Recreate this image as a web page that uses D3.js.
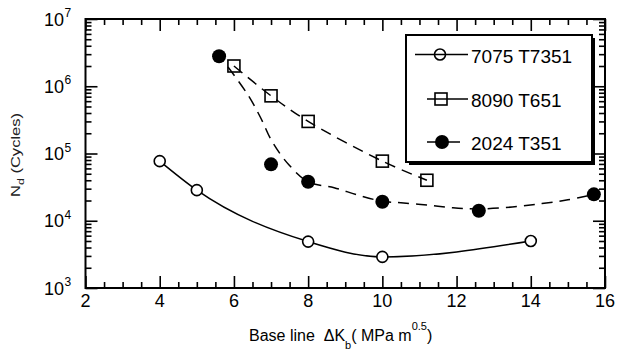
<!DOCTYPE html>
<html><head><meta charset="utf-8">
<script src="https://cdn.jsdelivr.net/npm/d3@7"></script>
<style>
html,body{margin:0;padding:0;background:#fff;}
svg{display:block;font-family:"Liberation Sans",Arial,Helvetica,sans-serif;}
</style></head>
<body>
<script>
// ---- data ----
const x7075 = [4, 5, 8, 10, 14];
const y7075 = [7.7e4, 2.85e4, 4.9e3, 2.9e3, 5.0e3];

const x8090 = [6, 7, 8, 10, 11.2];
const y8090 = [2.0e6, 7.2e5, 3.0e5, 7.7e4, 4.0e4];

const x2024 = [5.6, 7, 8, 10, 12.6, 15.7];
const y2024 = [2.8e6, 6.9e4, 3.8e4, 1.92e4, 1.41e4, 2.47e4];

// dashed fit curve drawn for 2024 T351
const fit2024X = [5.84, 6.38, 6.72, 7.03, 7.48, 8.0, 8.7, 9.35, 10.0, 10.5, 11.2, 11.9, 12.6, 13.5, 14.3, 15.0, 15.7];
const fit2024Y = [1.93e6, 7.4e5, 3.4e5, 1.5e5, 6.8e4, 3.8e4, 3.1e4, 2.4e4, 1.95e4, 1.85e4, 1.72e4, 1.56e4, 1.5e4, 1.6e4, 1.8e4, 2.05e4, 2.45e4];

const legendLabels = ["7075 T7351", "8090 T651", "2024 T351"];
const xTicks = [2, 4, 6, 8, 10, 12, 14, 16];
const xMinor = [2.5,3,3.5,4.5,5,5.5,6.5,7,7.5,8.5,9,9.5,10.5,11,11.5,12.5,13,13.5,14.5,15,15.5];
const yExps = [3, 4, 5, 6, 7];

// ---- layout ----
const W = 617, H = 351;
const L = 85.5, R = 605, T = 19, B = 288;

const svg = d3.select("body").append("svg").attr("width", W).attr("height", H);
const x = d3.scaleLinear().domain([2, 16]).range([L, R]);
const y = d3.scaleLog().domain([1e3, 1e7]).range([B, T]);

const yMajor = yExps.map(e => Math.pow(10, e));
const yMinor = [];
for (let e = 3; e < 7; e++) for (let m = 2; m <= 9; m++) yMinor.push(m * Math.pow(10, e));

function tickAxis(axisFn, scale, vals, size, tr) {
  const g = svg.append("g").attr("transform", tr)
    .call(axisFn(scale).tickValues(vals).tickSize(size).tickFormat(""));
  g.select(".domain").remove();
  g.selectAll(".tick line").attr("stroke", "#000").attr("stroke-width", 1.6);
}
tickAxis(d3.axisBottom, x, xTicks, -12, `translate(0,${B})`);
tickAxis(d3.axisBottom, x, xMinor, -6, `translate(0,${B})`);
tickAxis(d3.axisTop, x, xTicks, -12, `translate(0,${T})`);
tickAxis(d3.axisTop, x, xMinor, -6, `translate(0,${T})`);
tickAxis(d3.axisLeft, y, yMajor, -12, `translate(${L},0)`);
tickAxis(d3.axisLeft, y, yMinor, -6, `translate(${L},0)`);
tickAxis(d3.axisRight, y, yMajor, -12, `translate(${R},0)`);
tickAxis(d3.axisRight, y, yMinor, -6, `translate(${R},0)`);

svg.append("rect").attr("x", L).attr("y", T).attr("width", R - L).attr("height", B - T)
  .attr("fill", "none").attr("stroke", "#000").attr("stroke-width", 2);

// x tick labels
svg.append("g").selectAll("text").data(xTicks).join("text")
  .attr("x", d => x(d)).attr("y", B + 18.5).attr("text-anchor", "middle")
  .attr("font-size", 18).text(d => d);

// y tick labels 10^n
const yl = svg.append("g").selectAll("g").data(yExps).join("g");
yl.append("text").attr("x", 64).attr("y", d => y(Math.pow(10, d)) + 6.5)
  .attr("text-anchor", "end").attr("font-size", 18).text("10");
yl.append("text").attr("x", 64.5).attr("y", d => y(Math.pow(10, d)) - 2)
  .attr("font-size", 12).text(d => d);

// axis titles
const xt = svg.append("text").attr("x", 249).attr("y", 341).attr("font-size", 16)
  .style("white-space", "pre");
xt.append("tspan").text("Base line  ΔK");
xt.append("tspan").attr("font-size", 11).attr("dy", 8).text("b");
xt.append("tspan").attr("dy", -8).text("( MPa m");
xt.append("tspan").attr("font-size", 11).attr("dy", -11).text("0.5");
xt.append("tspan").attr("dy", 11).text(")");

const yt = svg.append("text").attr("font-size", 12).attr("fill", "#222")
  .attr("transform", "translate(20,155) rotate(-90) scale(1.38,1)")
  .attr("text-anchor", "middle").style("white-space", "pre");
yt.append("tspan").text("N");
yt.append("tspan").attr("font-size", 9).attr("dy", 4).text("d");
yt.append("tspan").attr("dy", -4).text(" (Cycles)");

// ---- curves ----
const zip = (a, b) => a.map((v, i) => [v, b[i]]);
const lineMono = d3.line().x(d => x(d[0])).y(d => y(d[1])).curve(d3.curveMonotoneX);
const lineCR = d3.line().x(d => x(d[0])).y(d => y(d[1])).curve(d3.curveCatmullRom.alpha(0.5));

svg.append("path").attr("d", lineMono(zip(x7075, y7075)))
  .attr("fill", "none").attr("stroke", "#000").attr("stroke-width", 1.5);
svg.append("path").attr("d", lineCR(zip(x8090, y8090)))
  .attr("fill", "none").attr("stroke", "#000").attr("stroke-width", 1.5).attr("stroke-dasharray", "11,7");
svg.append("path").attr("d", lineCR(zip(fit2024X, fit2024Y)))
  .attr("fill", "none").attr("stroke", "#000").attr("stroke-width", 1.5).attr("stroke-dasharray", "11,7");

// ---- markers ----
svg.append("g").selectAll("rect").data(zip(x8090, y8090)).join("rect")
  .attr("x", d => x(d[0]) - 6).attr("y", d => y(d[1]) - 6).attr("width", 12).attr("height", 12)
  .attr("fill", "none").attr("stroke", "#000").attr("stroke-width", 1.6);
svg.append("g").selectAll("circle").data(zip(x7075, y7075)).join("circle")
  .attr("cx", d => x(d[0])).attr("cy", d => y(d[1])).attr("r", 5.5)
  .attr("fill", "#fff").attr("stroke", "#000").attr("stroke-width", 1.6);
svg.append("g").selectAll("circle").data(zip(x2024, y2024)).join("circle")
  .attr("cx", d => x(d[0])).attr("cy", d => y(d[1])).attr("r", 7).attr("fill", "#000");

// ---- legend ----
const lg = svg.append("g");
lg.append("rect").attr("x", 409).attr("y", 38).attr("width", 186).attr("height", 127).attr("fill", "#000");
lg.append("rect").attr("x", 406).attr("y", 35).attr("width", 186).attr("height", 127)
  .attr("fill", "#fff").attr("stroke", "#000").attr("stroke-width", 2);
const rowsY = [54.5, 99, 142];
const lineSpans = [[415, 468], [427, 468], [427, 460]];
rowsY.forEach((ry, i) => {
  lg.append("line").attr("x1", lineSpans[i][0]).attr("x2", lineSpans[i][1])
    .attr("y1", ry).attr("y2", ry).attr("stroke", "#000").attr("stroke-width", 1.5);
  if (i === 0) lg.append("circle").attr("cx", 440).attr("cy", ry).attr("r", 5.5)
    .attr("fill", "none").attr("stroke", "#000").attr("stroke-width", 1.6);
  if (i === 1) lg.append("rect").attr("x", 435).attr("y", ry - 6).attr("width", 12).attr("height", 12)
    .attr("fill", "none").attr("stroke", "#000").attr("stroke-width", 1.6);
  if (i === 2) lg.append("circle").attr("cx", 442).attr("cy", ry).attr("r", 7).attr("fill", "#000");
  lg.append("text").attr("x", 471).attr("y", ry + 8).attr("font-size", 19).text(legendLabels[i]);
});
</script>
</body></html>
